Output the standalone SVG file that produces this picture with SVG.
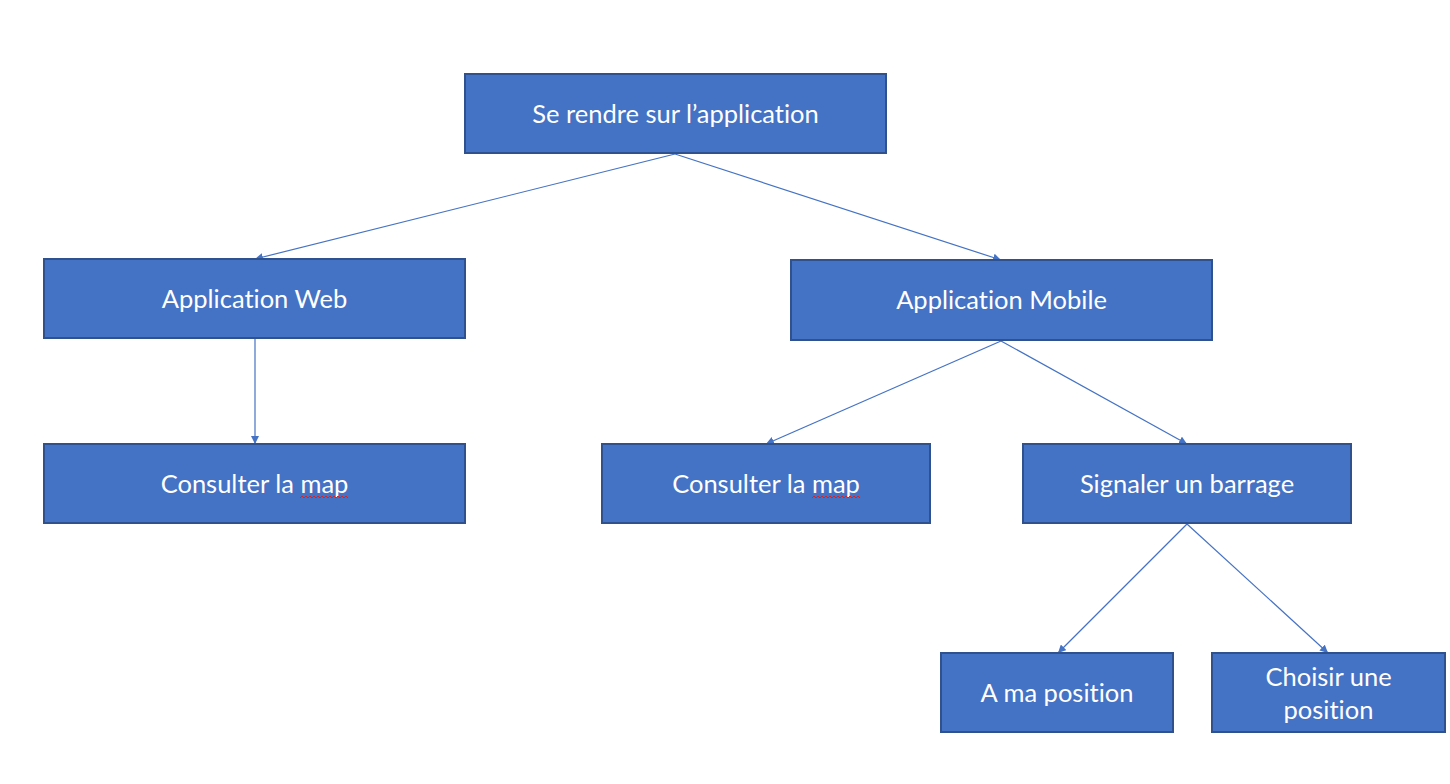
<svg xmlns="http://www.w3.org/2000/svg" width="1450" height="784" viewBox="0 0 1450 784">
<style>
.box{fill:#4472C4;stroke:#2F528F;stroke-width:2}
.lbl{font-family:Lato,"Open Sans","Liberation Sans",sans-serif;font-size:25.5px;fill:#FFFFFF;text-anchor:middle;font-variant-ligatures:none;font-feature-settings:"liga" 0,"dlig" 0}
.con{stroke:#4472C4;stroke-width:1.2;fill:none;marker-end:url(#arr)}
.sq{stroke:#E02020;stroke-width:1;fill:none}
</style>
<defs>
<marker id="arr" viewBox="0 0 10 10" refX="10" refY="5" markerWidth="8" markerHeight="8" markerUnits="userSpaceOnUse" orient="auto">
<path d="M0,0 L10,5 L0,10 z" fill="#4472C4"/>
</marker>
</defs>
<rect width="1450" height="784" fill="#FFFFFF"/>
<g id="connectors">
<line class="con" x1="675" y1="154" x2="255" y2="259"/>
<line class="con" x1="675" y1="154" x2="1001" y2="260"/>
<line class="con" x1="255" y1="339" x2="255" y2="444"/>
<line class="con" x1="1001" y1="341" x2="766" y2="444"/>
<line class="con" x1="1001" y1="341" x2="1187" y2="444"/>
<line class="con" x1="1187" y1="524" x2="1058" y2="653"/>
<line class="con" x1="1187" y1="524" x2="1328" y2="653"/>
</g>
<g id="n-app">
<rect class="box" x="465" y="74" width="421" height="79"/>
<text class="lbl" x="675.5" y="123">Se rendre sur l’application</text>
</g>
<g id="n-web">
<rect class="box" x="44" y="259" width="421" height="79"/>
<text class="lbl" x="254.5" y="308">Application Web</text>
</g>
<g id="n-mobile">
<rect class="box" x="791" y="260" width="421" height="80"/>
<text class="lbl" x="1001.5" y="309">Application Mobile</text>
</g>
<g id="n-web-map">
<rect class="box" x="44" y="444" width="421" height="79"/>
<text class="lbl" x="254.5" y="493">Consulter la map</text>
<path class="sq" d="M300,498 l2,-2 l2,2 l2,-2 l2,2 l2,-2 l2,2 l2,-2 l2,2 l2,-2 l2,2 l2,-2 l2,2 l2,-2 l2,2 l2,-2 l2,2 l2,-2 l2,2 l2,-2 l2,2 l2,-2 l2,2 l2,-2 l2,2"/>
</g>
<g id="n-mob-map">
<rect class="box" x="602" y="444" width="328" height="79"/>
<text class="lbl" x="766" y="493">Consulter la map</text>
<path class="sq" d="M812,498 l2,-2 l2,2 l2,-2 l2,2 l2,-2 l2,2 l2,-2 l2,2 l2,-2 l2,2 l2,-2 l2,2 l2,-2 l2,2 l2,-2 l2,2 l2,-2 l2,2 l2,-2 l2,2 l2,-2 l2,2 l2,-2 l2,2"/>
</g>
<g id="n-signal">
<rect class="box" x="1023" y="444" width="328" height="79"/>
<text class="lbl" x="1187" y="493">Signaler un barrage</text>
</g>
<g id="n-mapos">
<rect class="box" x="941" y="653" width="232" height="79"/>
<text class="lbl" x="1057" y="702">A ma position</text>
</g>
<g id="n-choisir">
<rect class="box" x="1212" y="653" width="233" height="79"/>
<text class="lbl" x="1328.5" y="686">Choisir une</text>
<text class="lbl" x="1328.5" y="719">position</text>
</g>
</svg>
